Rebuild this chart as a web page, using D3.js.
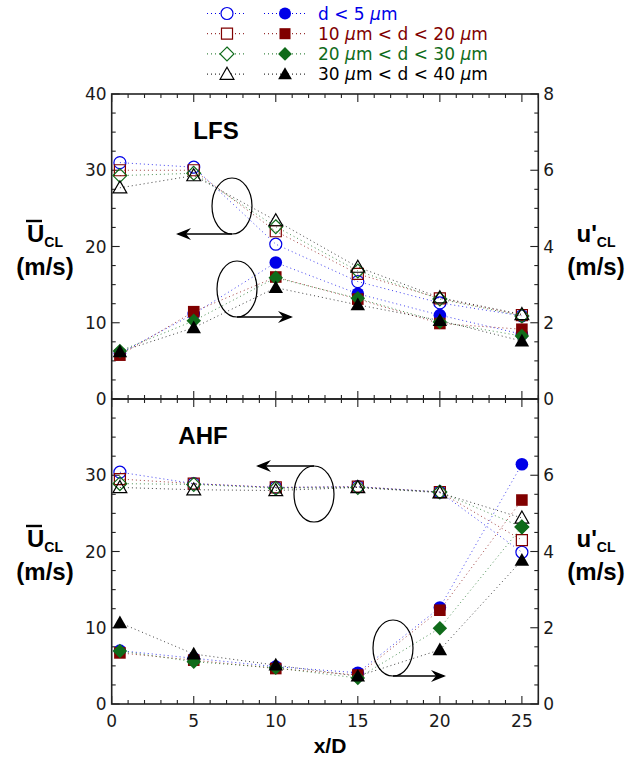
<!DOCTYPE html>
<html>
<head>
<meta charset="utf-8">
<script src="https://cdn.jsdelivr.net/npm/d3@7"></script>
<style>
  body { margin: 0; background: #fff; }
  svg { display: block; }
</style>
</head>
<body>
<script>
// x/D stations
const xs = [0.5, 5, 10, 15, 20, 25];

const groups = ["d < 5 ", "10 ", "20 ", "30 "];
const groupColors = ["#0000e8", "#800000", "#0f6b1a", "#000000"];
const groupShapes = ["circle", "square", "diamond", "triangle"];

// LFS – mean centreline velocity (left axis, open symbols)
const lfsMean = [
  [31.0, 30.4, 20.3, 15.4, 12.6, 10.9],
  [30.0, 30.0, 22.0, 16.4, 13.2, 11.0],
  [29.3, 29.6, 22.6, 16.8, 13.1, 10.9],
  [27.7, 29.3, 23.4, 17.3, 13.3, 11.1]
];
// LFS – rms fluctuation (right axis, filled symbols)
const lfsRms = [
  [1.20, 2.23, 3.58, 2.76, 2.20, 1.70],
  [1.15, 2.29, 3.20, 2.62, 1.98, 1.83],
  [1.26, 2.05, 3.18, 2.64, 2.02, 1.65],
  [1.24, 1.87, 2.92, 2.47, 2.06, 1.52]
];
// AHF – mean centreline velocity
const ahfMean = [
  [30.4, 28.9, 28.4, 28.5, 27.8, 19.9],
  [29.5, 28.9, 28.4, 28.5, 27.8, 21.5],
  [28.9, 28.8, 28.3, 28.4, 27.8, 23.2],
  [28.4, 28.1, 28.0, 28.4, 27.7, 24.4]
];
// AHF – rms fluctuation
const ahfRms = [
  [1.40, 1.20, 0.98, 0.82, 2.53, 6.29],
  [1.34, 1.15, 0.93, 0.76, 2.46, 5.35],
  [1.39, 1.11, 0.95, 0.68, 1.99, 4.65],
  [2.13, 1.31, 1.02, 0.73, 1.42, 3.77]
];

const xTicks = [0, 5, 10, 15, 20, 25];
const leftTicksTop = [0, 10, 20, 30, 40];
const rightTicksTop = [0, 2, 4, 6, 8];
const leftTicksBottom = [0, 10, 20, 30];
const rightTicksBottom = [0, 2, 4, 6];

const W = 639, H = 760;
const left = 111.7, right = 538.3;
const font = "'DejaVu Sans', Verdana, sans-serif";
const boldFont = "'Liberation Sans', Arial, sans-serif";

const svg = d3.select("body").append("svg")
    .attr("width", W).attr("height", H)
    .attr("viewBox", `0 0 ${W} ${H}`);

const x = d3.scaleLinear().domain([0, 26]).range([left, right]);

function shapePath(type, r) {
  const p = d3.path();
  if (type === "circle") {
    p.moveTo(r, 0); p.arc(0, 0, r, 0, 2 * Math.PI);
  } else if (type === "square") {
    const h = r * 0.92;
    p.rect(-h, -h, 2 * h, 2 * h);
  } else if (type === "diamond") {
    const h = r * 1.15;
    p.moveTo(0, -h); p.lineTo(h, 0); p.lineTo(0, h); p.lineTo(-h, 0); p.closePath();
  } else {
    const h = r * 1.15;
    p.moveTo(0, -h); p.lineTo(h, h * 0.75); p.lineTo(-h, h * 0.75); p.closePath();
  }
  return p.toString();
}

function panel(top, mean, rms, leftTicks, rightTicks, name, nameX) {
  const bottom = top + 305;
  const yL = d3.scaleLinear().domain([0, 40]).range([bottom, top]);
  const yR = d3.scaleLinear().domain([0, 8]).range([bottom, top]);
  const g = svg.append("g");

  // ticks on all four sides, pointing inward
  const ax = g.append("g").attr("stroke", "#222").attr("stroke-width", 1.1);
  d3.range(0, 27, 1).forEach(v => {
    const L = v % 5 === 0 ? 8 : 4;
    ax.append("line").attr("x1", x(v)).attr("x2", x(v)).attr("y1", bottom).attr("y2", bottom - L);
    ax.append("line").attr("x1", x(v)).attr("x2", x(v)).attr("y1", top).attr("y2", top + L);
  });
  d3.range(0, 40.01, 2.5).forEach(v => {
    const L = v % 10 === 0 ? 8 : 4;
    ax.append("line").attr("x1", left).attr("x2", left + L).attr("y1", yL(v)).attr("y2", yL(v));
    ax.append("line").attr("x1", right).attr("x2", right - L).attr("y1", yL(v)).attr("y2", yL(v));
  });
  g.append("rect")
      .attr("x", left).attr("y", top)
      .attr("width", right - left).attr("height", bottom - top)
      .attr("fill", "none").attr("stroke", "#222").attr("stroke-width", 1.6);

  // tick labels
  g.append("g").selectAll("text").data(leftTicks).join("text")
      .attr("x", left - 5).attr("y", d => yL(d)).attr("dy", "0.36em")
      .attr("text-anchor", "end")
      .style("font", `17px ${font}`).attr("fill", "#1a1a1a")
      .text(d => d);
  g.append("g").selectAll("text").data(rightTicks).join("text")
      .attr("x", right + 5).attr("y", d => yR(d)).attr("dy", "0.36em")
      .style("font", `17px ${font}`).attr("fill", "#1a1a1a")
      .text(d => d);

  // dotted connecting lines
  const lineL = d3.line().x((d, i) => x(xs[i])).y(d => yL(d));
  const lineR = d3.line().x((d, i) => x(xs[i])).y(d => yR(d));
  groups.forEach((grp, k) => {
    [[mean[k], lineL], [rms[k], lineR]].forEach(([vals, ln]) => {
      g.append("path")
          .attr("d", ln(vals))
          .attr("fill", "none")
          .attr("stroke", groupColors[k])
          .attr("stroke-opacity", 0.75)
          .attr("stroke-width", 1)
          .attr("stroke-dasharray", "1,3");
    });
  });

  // markers
  groups.forEach((grp, k) => {
    g.append("g").selectAll("path").data(mean[k]).join("path")
        .attr("transform", (d, i) => `translate(${x(xs[i])},${yL(d)})`)
        .attr("d", shapePath(groupShapes[k], 6))
        .attr("fill", "none")
        .attr("stroke", groupColors[k]).attr("stroke-width", 1.2);
  });
  groups.forEach((grp, k) => {
    g.append("g").selectAll("path").data(rms[k]).join("path")
        .attr("transform", (d, i) => `translate(${x(xs[i])},${yR(d)})`)
        .attr("d", shapePath(groupShapes[k], 6.3))
        .attr("fill", groupColors[k]);
  });

  g.append("text")
      .attr("x", nameX).attr("y", top + 45)
      .attr("text-anchor", "middle")
      .style("font", `bold 24px ${boldFont}`)
      .text(name);

  // side labels
  function sideLabel(cx, cy, main, bar) {
    const t = g.append("text")
        .attr("x", cx).attr("y", cy)
        .attr("text-anchor", "middle")
        .style("font", `bold 24px ${boldFont}`);
    t.append("tspan").text(main);
    t.append("tspan").attr("dy", 5).style("font-size", "14px").text("CL");
    if (bar) {
      g.append("line")
          .attr("x1", cx - 19).attr("x2", cx - 3)
          .attr("y1", cy - 21).attr("y2", cy - 21)
          .attr("stroke", "#000").attr("stroke-width", 2.4);
    }
    g.append("text")
        .attr("x", cx).attr("y", cy + 33)
        .attr("text-anchor", "middle")
        .style("font", `bold 24px ${boldFont}`)
        .text("(m/s)");
  }
  sideLabel(45, top + 148, "U", true);
  sideLabel(596, top + 148, "u'", false);

  return {g, yL, yR};
}

function annot(g, cx, cy, dir, len) {
  g.append("ellipse")
      .attr("cx", cx).attr("cy", cy).attr("rx", 20).attr("ry", 28)
      .attr("fill", "none").attr("stroke", "#000").attr("stroke-width", 1.2);
  const yA = dir === "up" ? cy - 28 : cy + 28;
  const sgn = len < 0 ? -1 : 1;
  const tip = cx + len;
  g.append("line")
      .attr("x1", cx).attr("x2", tip - sgn * 2).attr("y1", yA).attr("y2", yA)
      .attr("stroke", "#000").attr("stroke-width", 1.3);
  g.append("path")
      .attr("d", `M${tip},${yA} L${tip - sgn * 15},${yA - 6} L${tip - sgn * 10},${yA} L${tip - sgn * 15},${yA + 6} Z`)
      .attr("fill", "#000");
}

const p1 = panel(94, lfsMean, lfsRms, leftTicksTop, rightTicksTop, "LFS", 216);
const p2 = panel(399, ahfMean, ahfRms, leftTicksBottom, rightTicksBottom, "AHF", 203);

annot(p1.g, 232, 206, "down", -56);
annot(p1.g, 237, 289, "down", 56);
annot(p2.g, 314, 494, "up", -58);
annot(p2.g, 393, 648, "down", 53);

// x tick labels
svg.append("g").selectAll("text").data(xTicks).join("text")
    .attr("x", d => x(d)).attr("y", 727)
    .attr("text-anchor", "middle")
    .style("font", `17px ${font}`).attr("fill", "#1a1a1a")
    .text(d => d);

svg.append("text")
    .attr("x", 330).attr("y", 753)
    .attr("text-anchor", "middle")
    .style("font", `bold 21px ${boldFont}`)
    .text("x/D");

// legend
const legendText = [
  ["d < 5 ", "μ", "m"],
  ["10 ", "μ", "m < d < 20 ", "μ", "m"],
  ["20 ", "μ", "m < d < 30 ", "μ", "m"],
  ["30 ", "μ", "m < d < 40 ", "μ", "m"]
];
const legend = svg.append("g");
groups.forEach((grp, k) => {
  const y = 13.5 + k * 20.2;
  [[207, 247, 227, false], [264, 306, 285, true]].forEach(([a, b, c, filled]) => {
    legend.append("line")
        .attr("x1", a).attr("x2", b).attr("y1", y).attr("y2", y)
        .attr("stroke", groupColors[k]).attr("stroke-width", 1)
        .attr("stroke-dasharray", "1,3");
    const m = legend.append("path")
        .attr("transform", `translate(${c},${y})`)
        .attr("d", shapePath(groupShapes[k], 6));
    if (filled) m.attr("fill", groupColors[k]);
    else m.attr("fill", "#fff").attr("stroke", groupColors[k]).attr("stroke-width", 1.2);
  });
  const t = legend.append("text")
      .attr("x", 318).attr("y", y).attr("dy", "0.36em")
      .style("font", `17px ${font}`)
      .attr("fill", groupColors[k]);
  legendText[k].forEach(s => {
    const ts = t.append("tspan").text(s);
    if (s === "μ") ts.style("font-style", "italic");
  });
});
</script>
</body>
</html>
